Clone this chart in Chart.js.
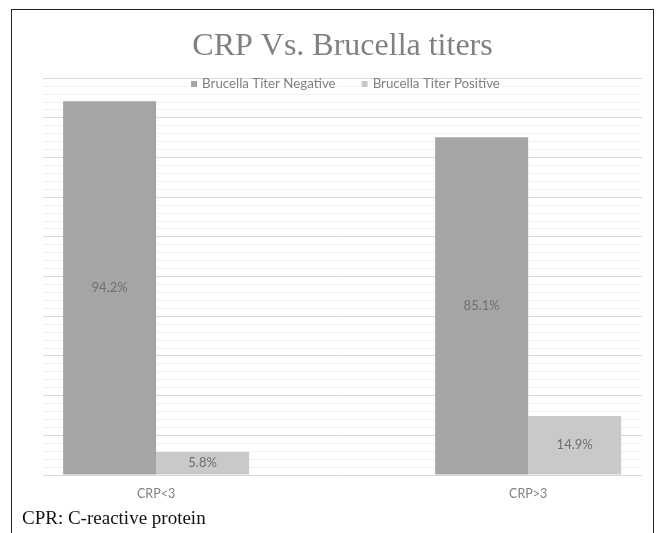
<!DOCTYPE html>
<html>
<head>
<meta charset="utf-8">
<script src="https://cdn.jsdelivr.net/npm/chart.js@4.4.1/dist/chart.umd.min.js"></script>
<style>
  html, body { margin: 0; padding: 0; background: #fff; overflow: hidden; }
  #frame { position: absolute; left: 11px; top: 9px; width: 641px; height: 560px; border: 1px solid #222; }
  #chart { position: absolute; left: 0; top: 0; }
  #caption { position: absolute; left: 22px; top: 507px; line-height: 22px; font-family: 'Liberation Serif', serif; font-size: 19px; color: #111; }
</style>
</head>
<body>
<div id="frame"></div>
<canvas id="chart" width="659" height="533"></canvas>
<div id="caption">CPR: C-reactive protein</div>
<script>
const categories = ['CRP<3', 'CRP>3'];
const negativeValues = [94.2, 85.1];
const positiveValues = [5.8, 14.9];
const seriesNames = ['Brucella Titer Negative', 'Brucella Titer Positive'];
const seriesColors = ['#a5a5a5', '#c9c9c9'];

// legend drawn inside the plot, over the gridlines, like the excel one
const topLegend = {
  id: 'topLegend',
  afterDraw(chart) {
    const ctx = chart.ctx;
    const area = chart.chartArea;
    ctx.save();
    ctx.font = '13.3px Lato';
    ctx.textBaseline = 'middle';
    const box = 6, gap = 5, spacing = 26;
    const items = chart.data.datasets.map(ds => ({
      text: ds.label,
      color: ds.backgroundColor,
      w: box + gap + ctx.measureText(ds.label).width
    }));
    const total = items.reduce((s, it) => s + it.w, 0) + spacing * (items.length - 1);
    let x = (area.left + area.right) / 2 + 3 - total / 2;
    const y = 84;
    items.forEach(it => {
      ctx.fillStyle = '#fff';
      ctx.fillRect(x - 2, y - 5, it.w + 4, 11);
      ctx.fillStyle = it.color;
      ctx.fillRect(x, y - 3, box, box);
      ctx.fillStyle = '#7f7f7f';
      ctx.fillText(it.text, x + box + gap, y);
      x += it.w + spacing;
    });
    ctx.restore();
  }
};

const valueLabels = {
  id: 'valueLabels',
  afterDatasetsDraw(chart) {
    const ctx = chart.ctx;
    ctx.save();
    ctx.font = '13px Lato';
    ctx.textAlign = 'center';
    ctx.textBaseline = 'middle';
    ctx.fillStyle = '#6f6f6f';
    chart.data.datasets.forEach((ds, di) => {
      chart.getDatasetMeta(di).data.forEach((bar, i) => {
        ctx.fillText(ds.data[i].y.toFixed(1) + '%', bar.x, (bar.y + bar.base) / 2);
      });
    });
    ctx.restore();
  }
};

const ctx = document.getElementById('chart');
new Chart(ctx, {
  type: 'bar',
  data: {
    datasets: [
      {
        label: seriesNames[0],
        data: negativeValues.map((v, i) => ({ x: i, y: v })),
        backgroundColor: seriesColors[0],
        categoryPercentage: 0.5,
        barPercentage: 1
      },
      {
        label: seriesNames[1],
        data: positiveValues.map((v, i) => ({ x: i, y: v })),
        backgroundColor: seriesColors[1],
        categoryPercentage: 0.5,
        barPercentage: 1
      }
    ]
  },
  options: {
    responsive: false,
    animation: false,
    layout: { padding: { left: 43, right: 17, top: 10, bottom: 29 } },
    plugins: {
      legend: { display: false },
      tooltip: { enabled: false },
      title: {
        display: true,
        text: 'CRP Vs. Brucella titers',
        color: '#808080',
        font: { family: 'Liberation Serif', size: 32, weight: 'normal', lineHeight: 1.1 },
        padding: { top: 19, bottom: 14 }
      }
    },
    scales: {
      x: {
        type: 'linear',
        offset: false,
        min: -0.304,
        max: 1.306,
        grid: { display: false, offset: false },
        border: { display: false },
        afterBuildTicks: (scale) => {
          scale.ticks = categories.map((c, i) => ({ value: i }));
        },
        ticks: {
          callback: (v) => categories[v],
          color: '#808080',
          font: { family: 'Lato', size: 12.5 },
          padding: 3,
          maxRotation: 0,
          autoSkip: false
        }
      },
      y: {
        min: 0,
        max: 100,
        ticks: { display: false, stepSize: 2 },
        border: { display: false },
        grid: {
          drawTicks: false,
          color: (c) => (c.tick.value % 10 === 0 ? '#d9d9d9' : '#f0f0f0')
        }
      }
    }
  },
  plugins: [topLegend, valueLabels]
});
</script>
</body>
</html>
